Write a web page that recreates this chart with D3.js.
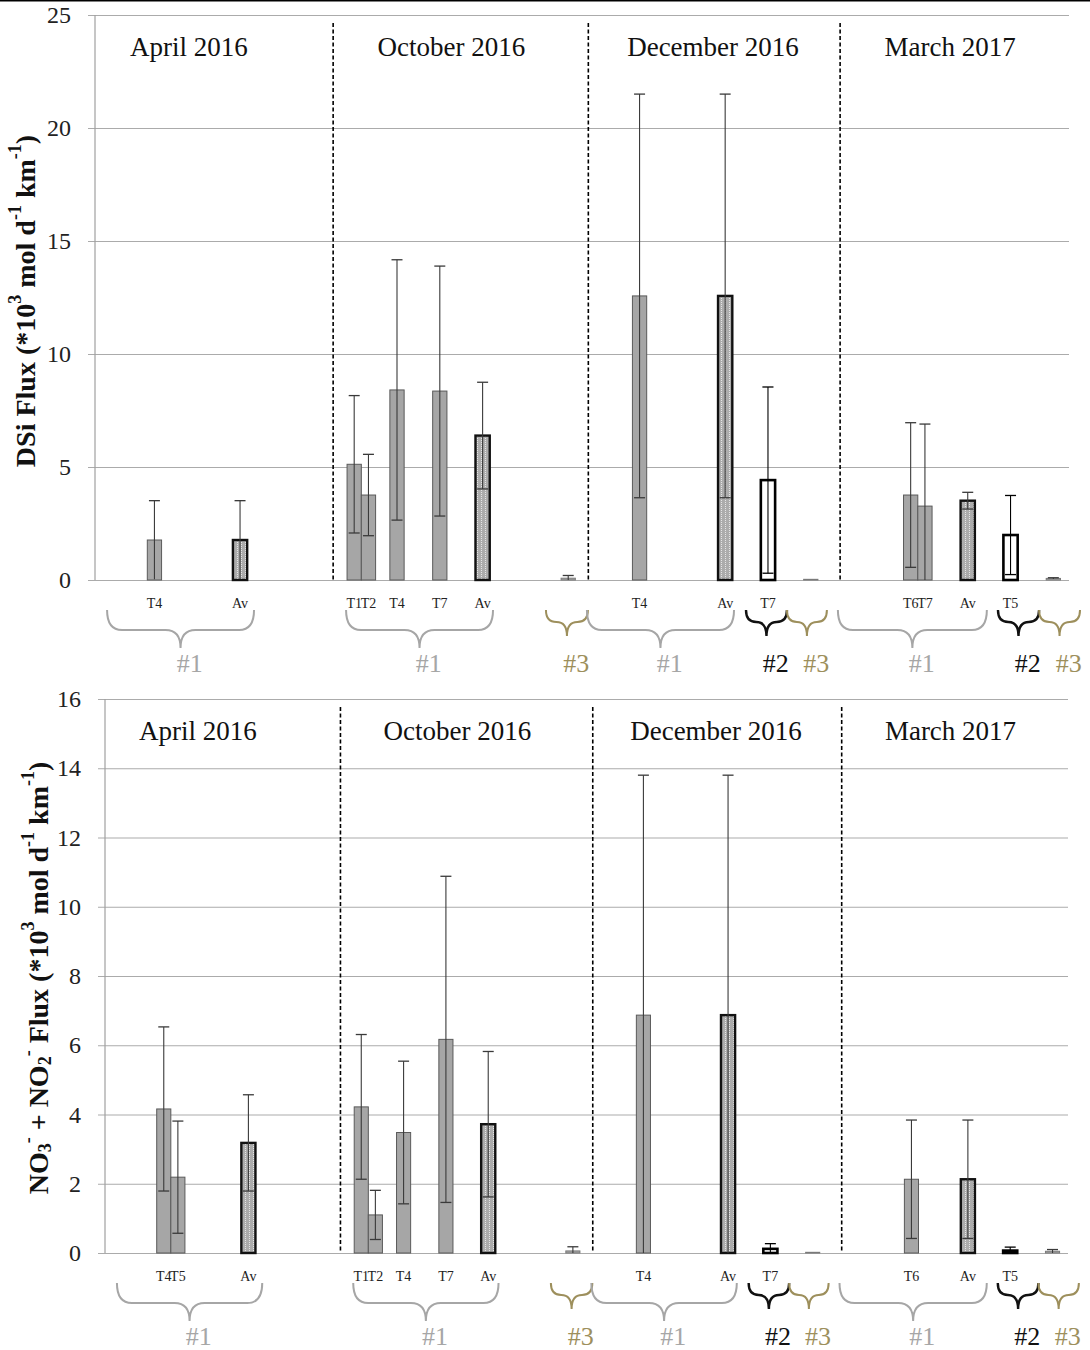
<!DOCTYPE html>
<html><head><meta charset="utf-8">
<script src="https://cdn.jsdelivr.net/npm/d3@7"></script>
<style>body{margin:0;background:#fff}</style>
</head><body><svg id="c" width="1090" height="1350"></svg>
<script>
// ---------------- DATA ----------------
const periods = ["April 2016","October 2016","December 2016","March 2017"];
// x-axis category slots (blank = empty slot), as in the original column chart
const categories = [
 "","","","","Apr|T4","Apr|T5","","","","","Apr|Av",
 "","","","","","","","Oct|T1","Oct|T2","","Oct|T4","","","Oct|T7","","","Oct|Av",
 "","","","","","Oct|#3",
 "","","","","Dec|T4","","","","","","Dec|Av","","","Dec|T7","","","Dec|#3",
 "","","","","","","Mar|T6","Mar|T7","","","Mar|Av","","","Mar|T5","","","Mar|#3",""
];

// Top panel: DSi flux
const dsiBars   = ["Apr|T4","Apr|Av","Oct|T1","Oct|T2","Oct|T4","Oct|T7","Oct|Av","Oct|#3","Dec|T4","Dec|Av","Dec|T7","Dec|#3","Mar|T6","Mar|T7","Mar|Av","Mar|T5","Mar|#3"];
const dsiValues = [1.77,1.77,5.12,3.76,8.41,8.36,6.39,0.08,12.57,12.57,4.42,0.03,3.76,3.27,3.51,1.99,0.07];
const dsiErrors = [1.74,1.74,3.04,1.80,5.76,5.53,2.36,0.12,8.93,8.93,4.12,0,3.20,3.63,0.37,1.75,0.03];
const dsiGroups = ["#1","#1","#1","#1","#1","#1","#1","#3","#1","#1","#2","#3","#1","#1","#1","#2","#3"];
const dsiTicks  = [0,5,10,15,20,25];

// Bottom panel: NO3- + NO2- flux
const noxBars   = ["Apr|T4","Apr|T5","Apr|Av","Oct|T1","Oct|T2","Oct|T4","Oct|T7","Oct|Av","Oct|#3","Dec|T4","Dec|Av","Dec|T7","Dec|#3","Mar|T6","Mar|Av","Mar|T5","Mar|#3"];
const noxValues = [4.16,2.19,3.18,4.22,1.10,3.48,6.17,3.72,0.06,6.87,6.87,0.12,0.02,2.13,2.13,0.07,0.05];
const noxErrors = [2.37,1.62,1.39,2.09,0.71,2.06,4.71,2.10,0.12,6.93,6.93,0.15,0,1.71,1.71,0.10,0.05];
const noxGroups = ["#1","#1","#1","#1","#1","#1","#1","#1","#3","#1","#1","#2","#3","#1","#1","#2","#3"];
const noxTicks  = [0,2,4,6,8,10,12,14,16];

// brace annotations (group label + span in category-slot units)
const braceGroups = ["#1","#1","#3","#1","#2","#3","#1","#2","#3"];
const braceSpans  = [[0.68,10.98],[17.43,27.73],[31.44,34.38],[34.31,44.62],[45.46,48.33],[48.33,51.13],[51.9,62.34],[63.12,66],[66,68.87]];

// ---------------- LAYOUT ----------------
const FONT = "'Liberation Serif','Times New Roman',serif";
const periodTitleFrac = [0.0965,0.366,0.6345,0.878];
const separatorFrac = [0.2445,0.5065,0.765];
const groupColor = {"#1":"#a6a6a6","#2":"#111111","#3":"#9d8f5c"};

const svg = d3.select("#c");
svg.append("line").attr("x1",0).attr("x2",1090).attr("y1",0.75).attr("y2",0.75)
  .attr("stroke","#000").attr("stroke-width",1.5);

const defs = svg.append("defs");
const pat = defs.append("pattern").attr("id","dots").attr("patternUnits","userSpaceOnUse")
  .attr("width",4).attr("height",4);
pat.append("rect").attr("width",4).attr("height",4).attr("fill","#acacac");
pat.append("rect").attr("x",1).attr("y",0).attr("width",1).attr("height",1).attr("fill","#e6e6e6");
pat.append("rect").attr("x",1).attr("y",2).attr("width",1).attr("height",1).attr("fill","#e6e6e6");

const panels = [
  {left:95, right:1069, top:15, bottom:580, max:25, ticks:dsiTicks,
   bars:dsiBars, vals:dsiValues, errs:dsiErrors, groups:dsiGroups,
   titleX:25, titleY:301, title:"dsi", titleSize:28},
  {left:105, right:1068, top:699, bottom:1253, max:16, ticks:noxTicks,
   bars:noxBars, vals:noxValues, errs:noxErrors, groups:noxGroups,
   titleX:38, titleY:978, title:"nox", titleSize:28}
];

panels.forEach(p => {
  const W = p.right - p.left;
  const g = svg.append("g");
  const y = d3.scaleLinear().domain([0,p.max]).range([p.bottom,p.top]);
  const x = d3.scaleBand()
    .domain(categories.map((c,i)=> c || "_"+i))
    .range([p.left - 0.0049*W, p.left + 1.0059*W])
    .paddingInner(0).paddingOuter(0);
  const slotX = s => x.range()[0] + (s+0.5)*x.step();
  const fx = f => p.left + f*W;

  // gridlines + tick labels
  const yAxis = d3.axisLeft(y).tickValues(p.ticks).tickSize(-(p.right-p.left)).tickPadding(0)
    .tickFormat(d3.format("d"));
  const ga = g.append("g").attr("transform",`translate(${p.left},0)`).call(yAxis);
  ga.select(".domain").remove();
  ga.selectAll(".tick line").attr("stroke","#ababab").attr("stroke-width",1.2)
    .attr("x1",-7);
  ga.selectAll(".tick text").attr("x",-24).attr("font-family",FONT).attr("font-size",24)
    .attr("fill","#222");
  g.append("line").attr("x1",p.left).attr("x2",p.left).attr("y1",p.top).attr("y2",p.bottom)
    .attr("stroke","#a0a0a0").attr("stroke-width",1.2);

  // bars
  const data = p.bars.map((k,i)=>({key:k, label:k.split("|")[1], v:p.vals[i], e:p.errs[i], grp:p.groups[i]}));
  const bw = x.bandwidth();
  data.forEach(d => {
    const x0 = x(d.key), yt = y(d.v), h = y(0)-yt;
    const r = g.append("rect").attr("x",x0).attr("y",yt).attr("width",bw).attr("height",Math.max(h,0.5));
    if (d.grp === "#2") r.attr("fill","#fff").attr("stroke","#000").attr("stroke-width",2.6);
    else if (d.grp === "#3") r.attr("fill","#a6a6a6").attr("stroke","#7a7a7a").attr("stroke-width",1);
    else if (d.label === "Av") r.attr("fill","url(#dots)").attr("stroke","#111").attr("stroke-width",2.4);
    else r.attr("fill","#a6a6a6").attr("stroke","#5a5a5a").attr("stroke-width",1);
  });
  // error bars
  data.forEach(d => {
    if (d.e <= 0) return;
    const cx = x(d.key) + bw/2;
    const hi = y(d.v + d.e), lo = y(Math.max(0, d.v - d.e));
    const col = d.grp === "#2" ? "#000" : "#3a3a3a";
    g.append("line").attr("x1",cx).attr("x2",cx).attr("y1",hi).attr("y2",lo)
      .attr("stroke",col).attr("stroke-width",1.1);
    g.append("line").attr("x1",cx-5.5).attr("x2",cx+5.5).attr("y1",hi).attr("y2",hi)
      .attr("stroke",col).attr("stroke-width",1.3);
    if (d.v - d.e > 0.05)
      g.append("line").attr("x1",cx-5.5).attr("x2",cx+5.5).attr("y1",lo).attr("y2",lo)
        .attr("stroke",col).attr("stroke-width",1.3);
  });

  // period separators
  separatorFrac.forEach(f => {
    g.append("line").attr("x1",fx(f)).attr("x2",fx(f)).attr("y1",p.top+8).attr("y2",p.bottom)
      .attr("stroke","#000").attr("stroke-width",1.6).attr("stroke-dasharray","4,2.5");
  });
  // period titles
  periods.forEach((t,i) => {
    g.append("text").attr("x",fx(periodTitleFrac[i])).attr("y",p.top+41)
      .attr("text-anchor","middle").attr("font-family",FONT).attr("font-size",27)
      .attr("fill","#111").text(t);
  });

  // category labels under bars
  data.filter(d => d.label !== "#3").forEach(d => {
    g.append("text").attr("x",x(d.key)+bw/2).attr("y",p.bottom+28)
      .attr("text-anchor","middle").attr("font-family",FONT).attr("font-size",14)
      .attr("fill","#222").text(d.label);
  });

  // braces
  const y0b = p.bottom;
  braceSpans.forEach((s,i) => {
    const grp = braceGroups[i];
    const xa = slotX(s[0]), xb = slotX(s[1]), xm = (xa+xb)/2;
    const big = grp === "#1";
    const t0 = y0b + 30, t1 = y0b + (big?50:42), t2 = y0b + (big?68:56);
    const r = Math.min(15, (xm-xa)/2);
    const path = `M${xa},${t0} Q${xa},${t1} ${xa+r},${t1} L${xm-r},${t1} Q${xm},${t1} ${xm},${t2} ` +
                 `Q${xm},${t1} ${xm+r},${t1} L${xb-r},${t1} Q${xb},${t1} ${xb},${t0}`;
    g.append("path").attr("d",path).attr("fill","none").attr("stroke",groupColor[grp])
      .attr("stroke-width", grp==="#2"?2.4:2);
    g.append("text").attr("x",xm + 0.65*x.step()).attr("y",y0b+92)
      .attr("text-anchor","middle").attr("font-family",FONT).attr("font-size",26)
      .attr("fill",groupColor[grp]).text(grp);
  });

  // y-axis title
  const tt = g.append("text").attr("transform",`translate(${p.titleX},${p.titleY}) rotate(-90)`)
    .attr("text-anchor","middle").attr("dominant-baseline","central")
    .attr("font-family",FONT).attr("font-size",p.titleSize).attr("font-weight","bold").attr("fill","#111");
  const parts = p.title === "dsi"
    ? [["DSi Flux (*10",0],["3",1],[" mol d",0],["-1",1],[" km",0],["-1",1],[")",0]]
    : [["NO",0],["3",-1],["-",1],[" + NO",0],["2",-1],["-",1],[" Flux (*10",0],["3",1],[" mol d",0],["-1",1],[" km",0],["-1",1],[")",0]];
  let cur = 0;
  parts.forEach(([txt,lvl]) => {
    const target = lvl === 1 ? -10 : lvl === -1 ? 7 : 0;
    const ts = tt.append("tspan").attr("dy", target - cur).text(txt);
    if (lvl !== 0) ts.attr("font-size", 18);
    cur = target;
  });
});
</script></body></html>
